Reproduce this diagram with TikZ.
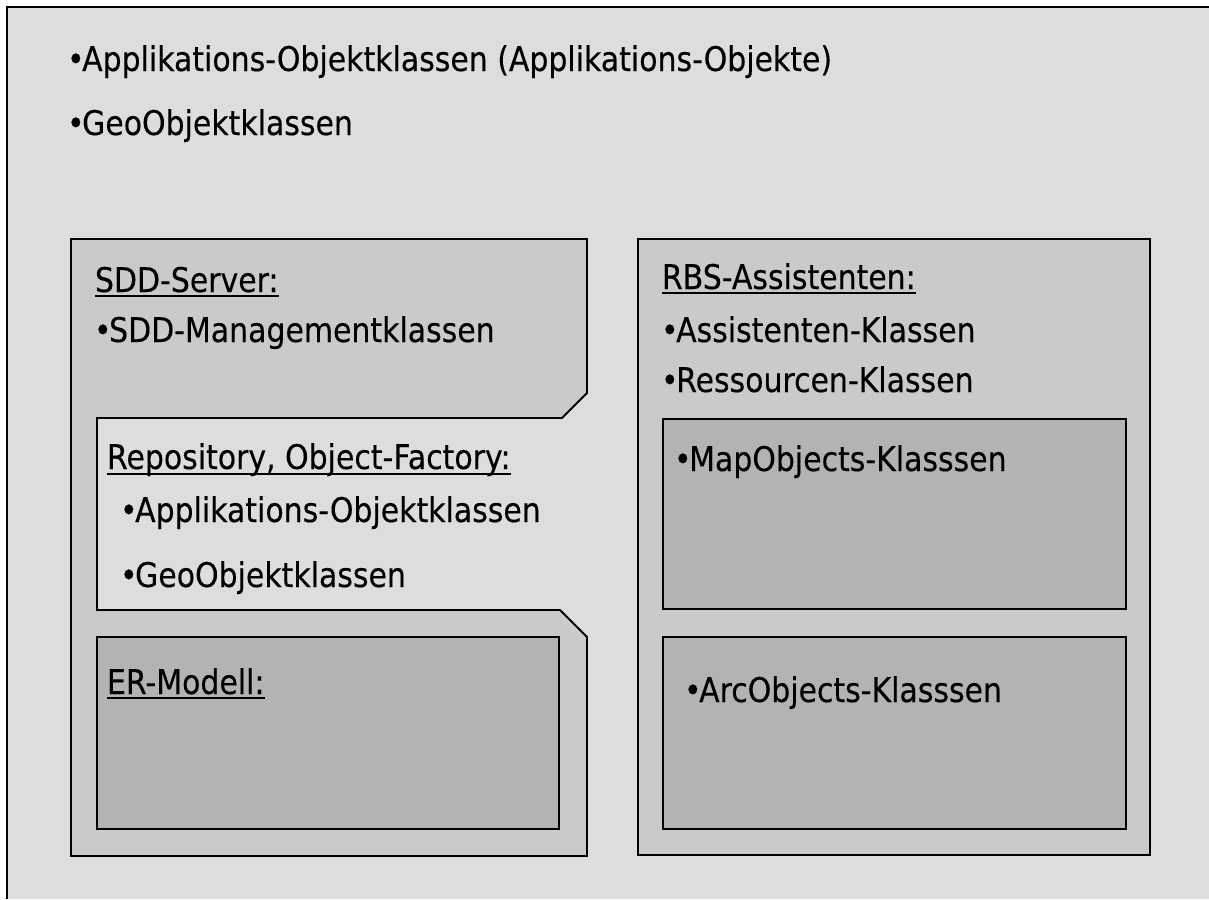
\documentclass[tikz,border=0pt]{standalone}
\usepackage{fontspec}
\setmainfont{DejaVu Sans}[FakeStretch=0.88, FakeBold=0.3]
\definecolor{bgc}{HTML}{DDDDDD}
\definecolor{outerc}{HTML}{CACACA}
\definecolor{innerc}{HTML}{B3B3B3}
\newcommand{\bulmark}{•\kern-2.5pt}
\tikzset{
  txt/.style={anchor=base west, inner sep=0pt, outer sep=0pt, font=\fontsize{34}{40}\selectfont},
  boxline/.style={draw=black, line width=1.8pt},
  ulline/.style={line width=1.6pt}
}
\begin{document}
\begin{tikzpicture}[x=1pt,y=-1pt]
\useasboundingbox (0,0) rectangle (1209,899);
\fill[white] (0,0) rectangle (1209,899);
\fill[bgc] (7,7) rectangle (1209,899);
\draw[line width=1.6pt] (7,899) -- (7,7) -- (1209,7);
% top texts
\node[txt] (t1) at (67,71) {\bulmark Applikations-Objektklassen (Applikations-Objekte)};
\node[txt] (t2) at (67,135) {\bulmark GeoObjektklassen};
% left polygon
\path[boxline, fill=outerc] (71,239) -- (587,239) -- (587,393) -- (562,418) -- (97,418) -- (97,610) -- (560,610) -- (587,637) -- (587,856) -- (71,856) -- cycle;
\path[boxline, fill=innerc] (97,637) rectangle (559,829);
% right box
\path[boxline, fill=outerc] (638,239) rectangle (1150,855);
\path[boxline, fill=innerc] (663,419) rectangle (1126,609);
\path[boxline, fill=innerc] (663,637) rectangle (1126,829);
% left texts
\node[txt] (sdd) at (95,292) {SDD-Server:};
\draw[ulline] ([yshift=-4pt]sdd.base west) -- ([yshift=-4pt]sdd.base east);
\node[txt] (sddm) at (94,342) {\bulmark SDD-Managementklassen};
\node[txt] (repo) at (107,469) {Repository, Object-Factory:};
\draw[ulline] ([yshift=-5pt]repo.base west) -- ([yshift=-5pt]repo.base east);
\node[txt] (rapp) at (120,522) {\bulmark Applikations-Objektklassen};
\node[txt] (rgeo) at (120,587) {\bulmark GeoObjektklassen};
\node[txt] (er) at (107,694) {ER-Modell:};
\draw[ulline] ([yshift=-4pt]er.base west) -- ([yshift=-4pt]er.base east);
% right texts
\node[txt] (rbs) at (662,289) {RBS-Assistenten:};
\draw[ulline] ([yshift=-4pt]rbs.base west) -- ([yshift=-4pt]rbs.base east);
\node[txt] (ass) at (661,342) {\bulmark Assistenten-Klassen};
\node[txt] (res) at (661,392) {\bulmark Ressourcen-Klassen};
\node[txt] (map) at (674,471) {\bulmark MapObjects-Klasssen};
\node[txt] (arc) at (684,702) {\bulmark ArcObjects-Klasssen};
\end{tikzpicture}
\end{document}
